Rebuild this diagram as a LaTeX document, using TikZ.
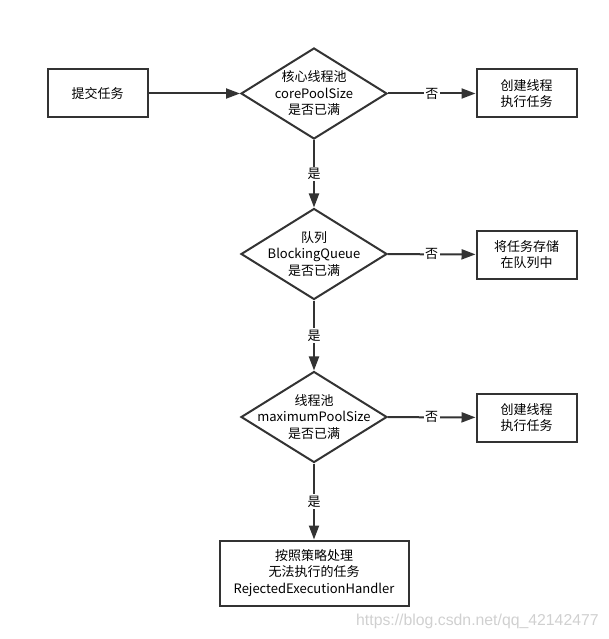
\documentclass[tikz,border=0pt]{standalone}
\usepackage{fontspec}
\setmainfont{Noto Sans CJK SC}
\newfontfamily\markfont{Liberation Sans}
\usetikzlibrary{arrows.meta,shapes.geometric}
\definecolor{linegray}{HTML}{333333}
\definecolor{markgray}{HTML}{D0D0D0}

\begin{document}
\begin{tikzpicture}[x=1pt, y=-1pt, >={Triangle[length=14pt,width=10pt]},
    font=\fontsize{13}{16.5}\selectfont,
    task/.style={draw=linegray, line width=2pt, minimum width=100pt, minimum height=48pt, align=center, inner sep=0pt},
    decision/.style={diamond, draw=linegray, line width=2pt, minimum width=146pt, minimum height=91pt, inner sep=0pt},
    flow/.style={->, draw=linegray, line width=2pt},
    answer/.style={fill=white, inner sep=1.5pt}]
    \useasboundingbox (0,0) rectangle (609,639);

    % boxes and decisions
    \node[task] (submit) at (97.5,93.5) {提交任务};
    \node[decision] (core) at (314,93.5) {};
    \node[align=center] (coretext) at (core) {核心线程池\\corePoolSize\\是否已满};
    \node[task] (create1) at (526.5,93.5) {创建线程\\执行任务};

    \node[decision] (queue) at (314,254) {};
    \node[align=center] (queuetext) at (queue) {队列\\BlockingQueue\\是否已满};
    \node[task] (store) at (526.5,254.5) {将任务存储\\在队列中};

    \node[decision] (max) at (314,417) {};
    \node[align=center] (maxtext) at (max) {线程池\\maximumPoolSize\\是否已满};
    \node[task] (create2) at (526.5,417.5) {创建线程\\执行任务};

    \node[task, minimum width=189pt, minimum height=65pt] (reject) at (314,573) {按照策略处理\\无法执行的任务\\RejectedExecutionHandler};

    % connectors
    \draw[flow] (submit) -- (core);
    \draw[flow] (core) -- node[answer] {否} (create1);
    \draw[flow] (core) -- node[answer] {是} (queue);
    \draw[flow] (queue) -- node[answer] {否} (store);
    \draw[flow] (queue) -- node[answer] {是} (max);
    \draw[flow] (max) -- node[answer] {否} (create2);
    \draw[flow] (max) -- node[answer] {是} (reject);

    \node[text=markgray, font=\markfont\fontsize{15.8}{18}\selectfont, anchor=west, inner sep=0pt] (mark) at (356,621) {https://blog.csdn.net/qq\_42142477};
\end{tikzpicture}
\end{document}
